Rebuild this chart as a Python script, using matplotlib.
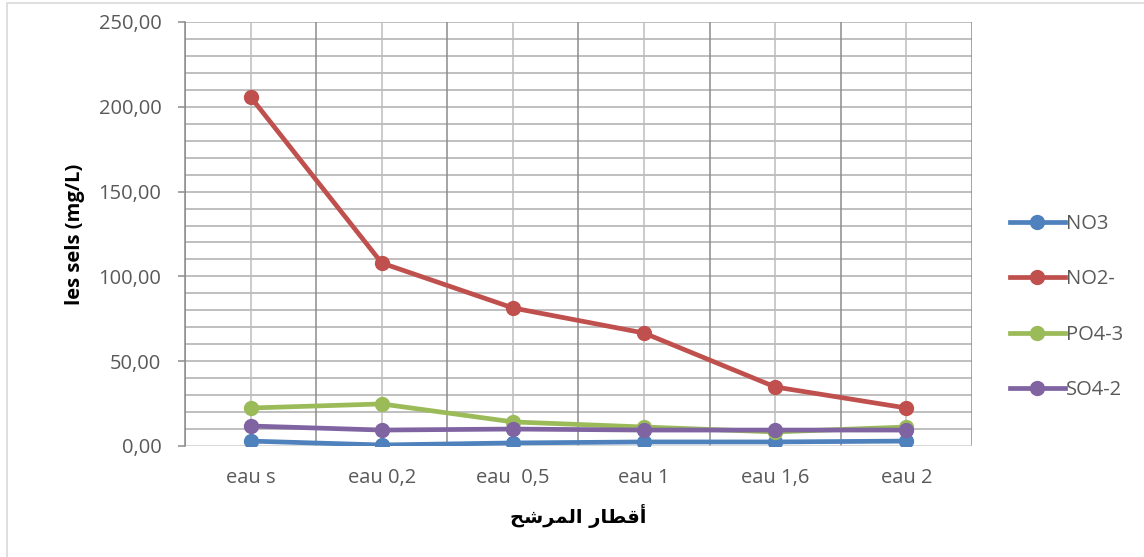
import numpy as np
import matplotlib.pyplot as plt
from matplotlib.lines import Line2D

categories = ['eau s', 'eau 0,2', 'eau  0,5', 'eau 1', 'eau 1,6', 'eau 2']
no3 = [2.9, 0.6, 1.8, 2.4, 2.4, 2.9]
no2 = [205.8, 107.9, 81.4, 66.6, 34.8, 22.4]
po4 = [22.4, 24.8, 14.2, 11.2, 8.3, 11.2]
so4 = [11.8, 9.4, 10.0, 9.4, 9.4, 9.4]
series = [('NO3', no3, '#4F81BD'),
          ('NO2-', no2, '#C0504D'),
          ('PO4-3', po4, '#9BBB59'),
          ('SO4-2', so4, '#8064A2')]

# "أقطار المرشح" written with presentation forms in visual order
xlabel_ar = '\uFEA2\uFEB7\uFEAE\uFEE4\uFEDF\uFE8D \uFEAD\uFE8E\uFEC4\uFED7\uFE83'

plt.rcParams['font.family'] = ['Open Sans', 'DejaVu Sans']

fig = plt.figure(figsize=(11.44, 5.57), dpi=100)
ax = fig.add_axes([185/1144, 1 - 446/557, 787/1144, 424/557])

x = np.arange(len(categories))

# grid: horizontal every 10, vertical at category centres and boundaries
for v in np.arange(10, 251, 10):
    ax.axhline(v, color='#ADADAD', lw=1.1, zorder=0)
for xc in x:
    ax.axvline(xc, color='#BDBDBD', lw=1.1, zorder=0)
for xb in np.arange(-0.5, len(categories), 1.0):
    ax.axvline(xb, color='#8C8C8C', lw=1.1, zorder=0)

for name, vals, col in series:
    ax.plot(x, vals, color=col, lw=3.4, marker='o', ms=10, label=name,
            solid_capstyle='round', zorder=3)

ax.set_xlim(-0.5, len(categories) - 0.5)
ax.set_ylim(0, 250)
ax.set_yticks(np.arange(0, 251, 50))
ax.set_yticklabels([f'{v:.2f}'.replace('.', ',') for v in np.arange(0, 251, 50)])
ax.set_xticks(x)
ax.set_xticklabels(categories)

for s in ['top', 'right', 'bottom']:
    ax.spines[s].set_visible(False)
ax.spines['left'].set_color('#8C8C8C')
ax.spines['left'].set_linewidth(1.1)
ax.axhline(0, color='#D0D0D0', lw=1.1, zorder=1)

ax.tick_params(axis='y', length=5, width=1.1, color='#8C8C8C', labelsize=14.5,
               labelcolor='#595959', pad=12)
ax.tick_params(axis='x', length=0, labelsize=14.5, labelcolor='#595959', pad=16)

ax.set_ylabel('les sels (mg/L)', fontsize=14.5, fontweight='bold', labelpad=10)
ax.set_xlabel(xlabel_ar, fontsize=14, fontweight='bold', labelpad=11,
              family=['DejaVu Sans'])

handles = [Line2D([0], [0], color=c, lw=3.4, marker='o', ms=10) for _, _, c in series]
fig.legend(handles, [n for n, _, _ in series], loc='upper left',
           bbox_to_anchor=(992/1144, 1 - 196/557), frameon=False,
           fontsize=14.5, labelcolor='#595959', handlelength=2.7,
           handletextpad=0.05, labelspacing=1.75)

# chart border
fig.patches.append(plt.Rectangle((7/1144, -0.05), 1.2, 1 - 3/557 + 0.05,
                                 transform=fig.transFigure, fill=False,
                                 edgecolor='#D9D9D9', lw=1.2))

fig.savefig('out.png', dpi=100)
